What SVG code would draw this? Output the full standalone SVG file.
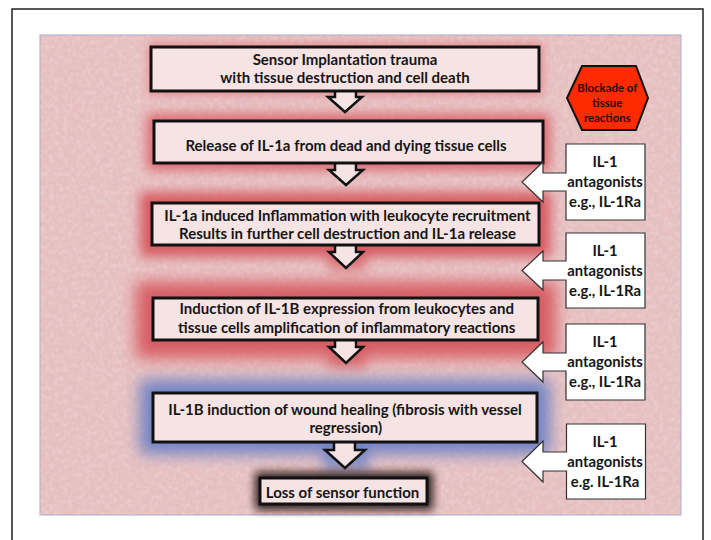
<svg xmlns="http://www.w3.org/2000/svg" width="711" height="540" viewBox="0 0 711 540">
<defs>
<style>
.box{fill:#f6e4e4;stroke:#111;stroke-width:3}
.arr{fill:#f6e4e4;stroke:#111;stroke-width:2.5;stroke-linejoin:miter}
.call{fill:#fff;stroke:#333;stroke-width:1.2}
.t{font-family:Lato,"Liberation Sans",sans-serif;font-weight:bold;font-size:15px;fill:#161616;text-anchor:middle}
.c{font-family:Lato,"Liberation Sans",sans-serif;font-weight:bold;font-size:14.8px;fill:#161616;text-anchor:middle}
.h{font-family:Lato,"Liberation Sans",sans-serif;font-weight:bold;font-size:11.4px;fill:#2a0800;text-anchor:middle}
</style>
<filter id="tex" x="0" y="0" width="100%" height="100%">
<feTurbulence type="fractalNoise" baseFrequency="0.22" numOctaves="2" seed="5"/>
<feColorMatrix type="matrix" values="0 0 0 0 1  0 0 0 0 0.96  0 0 0 0 0.96  0 0 0 1.6 -0.6"/>
</filter>
<filter id="g4" x="-30%" y="-60%" width="160%" height="220%"><feGaussianBlur stdDeviation="4"/></filter>
<filter id="g6" x="-30%" y="-60%" width="160%" height="220%"><feGaussianBlur stdDeviation="6"/></filter>
<filter id="g8" x="-30%" y="-80%" width="160%" height="260%"><feGaussianBlur stdDeviation="8"/></filter>
</defs>
<rect x="0" y="0" width="711" height="540" fill="#fff"/>
<rect x="12" y="9" width="691" height="560" fill="none" stroke="#222" stroke-width="1.5"/>
<g id="background">
<rect x="40" y="35" width="641" height="480" fill="#e6bfc0" stroke="#a8a8d0" stroke-width="1"/>
<rect x="40" y="35" width="641" height="480" filter="url(#tex)" opacity="0.3"/>
</g>
<g id="glows">
<rect x="148" y="43" width="395" height="52" fill="#e06a6a" opacity="0.6" filter="url(#g4)"/>
<rect x="147" y="114" width="403" height="56" fill="#d9585e" opacity="0.85" filter="url(#g6)"/>
<rect x="140" y="192" width="411" height="65" fill="#d6585e" opacity="0.95" filter="url(#g6)"/>
<rect x="328" y="240" width="38" height="30" fill="#d6585e" opacity="0.7" filter="url(#g6)"/>
<rect x="136" y="282" width="420" height="76" fill="#d6585e" opacity="0.95" filter="url(#g8)"/>
<rect x="328" y="340" width="38" height="28" fill="#d6585e" opacity="0.7" filter="url(#g6)"/>
<rect x="140" y="380" width="410" height="74" fill="#6b80c4" opacity="0.95" filter="url(#g8)"/>
<rect x="323" y="440" width="46" height="30" fill="#6b80c4" opacity="0.75" filter="url(#g6)"/>
<rect x="255" y="472" width="178" height="38" fill="#1a0c08" opacity="0.9" filter="url(#g4)"/>
</g>
<g id="connectors">
<polygon class="arr" points="335,89 356,89 356,97 362,97 345,112 328,97 335,97"/>
<polygon class="arr" points="335,161 356,161 356,170 363,170 346,185 329,170 335,170"/>
<polygon class="arr" points="335,243 356,243 356,252 363,252 346,268 329,252 335,252"/>
<polygon class="arr" points="335,338 356,338 356,347 363,347 346,363 329,347 335,347"/>
<polygon class="arr" points="334,440 355,440 355,450 365,450 345,468 325,450 334,450"/>
</g>
<g id="n1">
<rect class="box" x="151" y="47" width="388" height="44"/>
<text class="t" x="345" y="64.5">Sensor Implantation trauma</text>
<text class="t" x="345" y="83">with tissue destruction and cell death</text>
</g>
<g id="n2">
<rect class="box" x="154" y="121" width="389" height="42"/>
<text class="t" x="346" y="150.5">Release of IL-1a from dead and dying tissue cells</text>
</g>
<g id="n3">
<rect class="box" x="152" y="203" width="387" height="42"/>
<text class="t" x="347.5" y="220.5">IL-1a induced Inflammation with leukocyte recruitment</text>
<text class="t" x="347.5" y="238.5">Results in further cell destruction and IL-1a release</text>
</g>
<g id="n4">
<rect class="box" x="153" y="298" width="385" height="42"/>
<text class="t" x="346.7" y="313.5">Induction of IL-1B expression from leukocytes and</text>
<text class="t" x="346.7" y="333">tissue cells amplification of inflammatory reactions</text>
</g>
<g id="n5">
<rect class="box" x="153" y="393" width="384" height="49"/>
<text class="t" x="345" y="414.5">IL-1B induction of wound healing (fibrosis with vessel</text>
<text class="t" x="345.8" y="432.5">regression)</text>
</g>
<g id="n6">
<rect class="box" x="260" y="478" width="167" height="26"/>
<text class="t" x="342.5" y="498">Loss of sensor function</text>
</g>
<g id="blockade">
<polygon points="582,66 636,66 648,98 636,130 582,130 567,98" fill="#fe2a00" stroke="#111" stroke-width="2"/>
<text class="h" x="607.3" y="92">Blockade of</text>
<text class="h" x="607.3" y="107">tissue</text>
<text class="h" x="607.3" y="122">reactions</text>
</g>
<g id="a1">
<polygon class="call" points="645,144 645,220 566,220 566,191 543,191 543,202 522,182 543,162 543,173 566,173 566,144"/>
<text class="c" x="605" y="167">IL-1</text>
<text class="c" x="605" y="187">antagonists</text>
<text class="c" x="605" y="207">e.g., IL-1Ra</text>
</g>
<g id="a2">
<polygon class="call" points="645,233 645,308 566,308 566,280 543,280 543,290 522,270.5 543,251 543,261 566,261 566,233"/>
<text class="c" x="605" y="256">IL-1</text>
<text class="c" x="605" y="276">antagonists</text>
<text class="c" x="605" y="295.5">e.g., IL-1Ra</text>
</g>
<g id="a3">
<polygon class="call" points="645,324 645,400 566,400 566,371 543,371 543,382 522,362 543,342 543,353 566,353 566,324"/>
<text class="c" x="605" y="347">IL-1</text>
<text class="c" x="605" y="367">antagonists</text>
<text class="c" x="605" y="387">e.g., IL-1Ra</text>
</g>
<g id="a4">
<polygon class="call" points="645.5,424 645.5,499 566.5,499 566.5,471 543,471 543,482 522,461.5 543,441 543,452 566.5,452 566.5,424"/>
<text class="c" x="605" y="447">IL-1</text>
<text class="c" x="605" y="467">antagonists</text>
<text class="c" x="605" y="486.5">e.g. IL-1Ra</text>
</g>
</svg>
